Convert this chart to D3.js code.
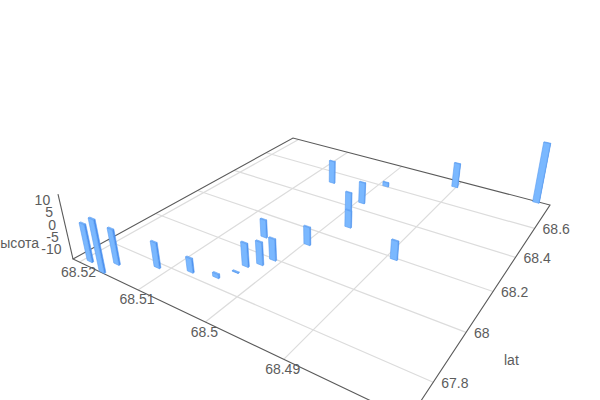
<!DOCTYPE html><html><head><meta charset="utf-8"><style>html,body{margin:0;background:#fff;overflow:hidden}svg{display:block}text{font-family:"Liberation Sans",Arial,sans-serif;font-size:14px;fill:#5c5c5c}</style></head><body><script src="https://cdn.jsdelivr.net/npm/d3@7"></script><script>
const lonValues=[68.5191,68.5161,68.5160,68.5115,68.5076,68.5044,68.5032,68.5030,68.5018,68.5011,68.5052,68.4996,68.5062,68.4993,68.4998,68.4975,68.4989,68.4890,68.4902,68.4787];
const latValues=[67.697,67.680,67.730,67.782,67.818,67.838,67.887,67.926,67.956,67.995,68.082,68.120,68.520,68.444,68.374,68.278,68.603,68.193,68.737,68.782];
const heightValues=[1.19,7.0,0.17,-3.93,-8.62,-12.9,-14.3,-4.72,-4.92,-5.38,-6.77,-6.74,-3.89,-4.79,-6.17,-6.9,-12.6,-6.5,-2.94,13.0];
const lonTicks=[68.52,68.51,68.5,68.49];
const latTicks=[68.6,68.4,68.2,68,67.8];
const heightTicks=[10,5,0,-5,-10];
const M=[[0,0,0],[0,0,0],[0,0,1]];
const corners=[[409,419],[73,259],[293,138],[550,205]];
(function(){const [[x0,y0],[x1,y1],[x2,y2],[x3,y3]]=corners;
const dx1=x1-x2,dx2=x3-x2,sx=x0-x1+x2-x3,dy1=y1-y2,dy2=y3-y2,sy=y0-y1+y2-y3,d=dx1*dy2-dx2*dy1;
const g=(sx*dy2-dx2*sy)/d,h=(dx1*sy-sx*dy1)/d;
M[0]=[x1-x0+g*x1,x3-x0+h*x3,x0];M[1]=[y1-y0+g*y1,y3-y0+h*y3,y0];M[2]=[g,h,1];})();
const VP=[321,1333];
const uScale=d3.scaleLinear().domain([68.4768,68.5212]).range([0,1]);
const vScale=d3.scaleLinear().domain([67.676,68.788]).range([0,1]);
const wScale=d3.scaleLinear().domain([-14.5,12]).range([0,-0.0802]);
function project(u,v,w=0){const a=M[0][0]*u+M[0][1]*v+M[0][2]+w*VP[0],b=M[1][0]*u+M[1][1]*v+M[1][2]+w*VP[1],t=M[2][0]*u+M[2][1]*v+M[2][2]+w;return [a/t,b/t];}
const svg=d3.select('body').append('svg').attr('width',600).attr('height',400);
const seg=(a,b)=>d3.line()([a,b]);
const grid=svg.append('g').attr('fill','none').attr('stroke','#dcdcdc').attr('stroke-width',1.2);
lonTicks.forEach(t=>grid.append('path').attr('d',seg(project(uScale(t),0),project(uScale(t),1))));
latTicks.forEach(t=>grid.append('path').attr('d',seg(project(0,vScale(t)),project(1,vScale(t)))));
const axis=svg.append('g').attr('fill','none').attr('stroke','#5a5a5a').attr('stroke-width',1.1);
axis.append('path').attr('d',d3.line()([project(0,0),project(1,0),project(1,1),project(0,1),project(0,0)]));
axis.append('path').attr('d',seg(project(1,0,0),project(1,0,wScale(12))));
const du=0.02,dv=0.005;
const order=d3.range(lonValues.length).sort((a,b)=>(uScale(lonValues[b])+vScale(latValues[b]))-(uScale(lonValues[a])+vScale(latValues[a])));
const bars=svg.append('g').attr('stroke-linejoin','round');
function face(pts,fill){bars.append('path').attr('d',d3.line()(pts)+'Z').attr('fill',fill).attr('stroke','#5b9cf0').attr('stroke-width',0.6);}
order.forEach(i=>{const u=uScale(lonValues[i]),v=vScale(latValues[i]),w=wScale(heightValues[i]);
const u0=u-du/2,u1=u+du/2,v0=v-dv/2,v1=v+dv/2;
face([project(u0,v0,w),project(u0,v1,w),project(u1,v1,w),project(u1,v0,w)],'#7db9ff');
face([project(u0,v0,0),project(u0,v1,0),project(u0,v1,w),project(u0,v0,w)],'#4a8ff0');
face([project(u0,v0,0),project(u1,v0,0),project(u1,v0,w),project(u0,v0,w)],'#7ab8ff');
});
const labels=svg.append('g');
lonTicks.forEach(t=>{const p=project(uScale(t),0);labels.append('text').attr('x',p[0]-1).attr('y',p[1]+14.5).attr('text-anchor','middle').text(t);});
latTicks.forEach(t=>{const p=project(0,vScale(t));labels.append('text').attr('x',p[0]+8).attr('y',p[1]+6).text(t);});
heightTicks.forEach(t=>{const p=project(1,0,wScale(t));labels.append('text').attr('x',p[0]-9).attr('y',p[1]+5.5).attr('text-anchor','end').text(t);});
labels.append('text').attr('x',39).attr('y',248).attr('text-anchor','end').text('высота');
labels.append('text').attr('x',504).attr('y',365).text('lat');
</script></body></html>
